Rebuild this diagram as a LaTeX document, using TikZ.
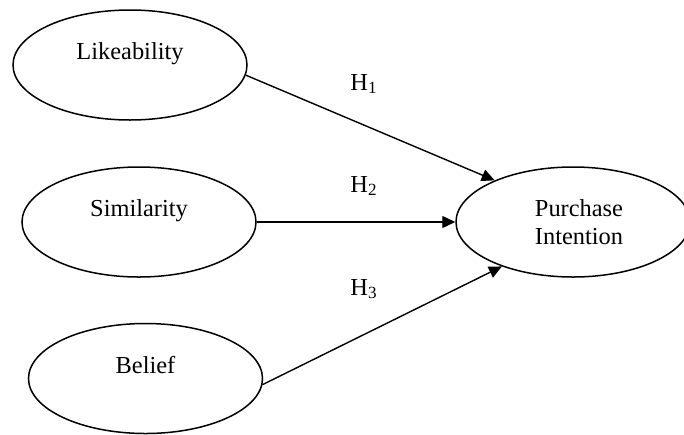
\documentclass[tikz,border=0pt]{standalone}
\usepackage{fontspec}
\setmainfont{Liberation Serif}
\usepackage{tikz}
\usetikzlibrary{shapes.geometric,arrows.meta}

\begin{document}
\begin{tikzpicture}[x=0.5pt,y=-0.5pt,
	construct/.style={shape=ellipse,draw=black,line width=0.75pt,minimum width=117pt,minimum height=55pt,inner sep=0pt,align=center,font=\fontsize{12.2}{14}\selectfont},
	hyp/.style={font=\fontsize{12.2}{14}\selectfont},
	link/.style={line width=0.7pt,-{Triangle[length=6.5pt,width=6pt]}}]
	\useasboundingbox (0,0) rectangle (684,434);
	\node[construct] (like) at (130, 65)    {Likeability\\~};
	\node[construct] (sim)  at (139, 222)   {Similarity\\~};
	\node[construct] (bel)  at (145.5, 378.5) {Belief\\~};
	\node[construct] (pi)   at (573, 222)   {\hspace*{6pt}Purchase\\\hspace*{6pt}Intention};
	\node[hyp] (h1) at (364, 84)  {H\textsubscript{1}};
	\node[hyp] (h2) at (364, 186) {H\textsubscript{2}};
	\node[hyp] (h3) at (364, 289) {H\textsubscript{3}};
	\path[link] (like.-5) edge (pi.152);
	\path[link] (sim) edge (pi);
	\path[link] (bel.-3) edge (pi.212);
\end{tikzpicture}
\end{document}
